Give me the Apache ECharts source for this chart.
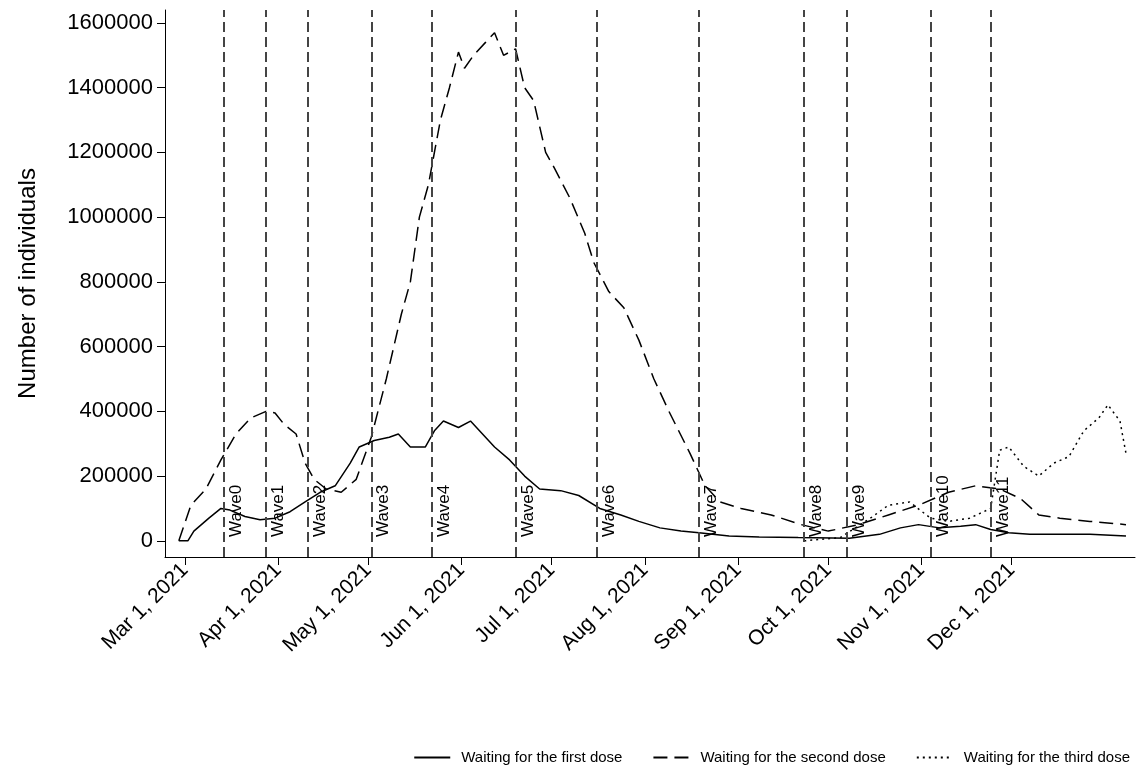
<!DOCTYPE html>
<html><head><meta charset="utf-8">
<script src="https://cdn.jsdelivr.net/npm/echarts@6/dist/echarts.min.js"></script>
<style>html,body{margin:0;padding:0;background:#fff}#c{width:1141px;height:778px}</style>
</head><body><div id="c"></div>
<script>
// days since Mar 1, 2021
const firstDose = [[-2,0],[1,0],[3,30000],[8,70000],[12,100000],[15,95000],[20,75000],[25,65000],[30,70000],[35,90000],[40,120000],[45,150000],[50,170000],[55,240000],[58,290000],[63,310000],[68,320000],[71,330000],[75,290000],[80,290000],[83,340000],[86,370000],[91,350000],[95,370000],[98,340000],[103,290000],[108,250000],[113,200000],[118,160000],[125,155000],[131,140000],[138,100000],[145,80000],[151,60000],[158,40000],[165,30000],[171,25000],[181,15000],[191,12000],[204,10000],[221,8000],[231,20000],[238,40000],[244,50000],[251,40000],[258,45000],[263,50000],[268,35000],[274,25000],[281,20000],[291,20000],[301,20000],[313,15000]];
const secondDose = [[-2,0],[2,110000],[7,160000],[12,250000],[17,330000],[22,380000],[27,400000],[30,395000],[33,360000],[37,330000],[40,240000],[43,190000],[47,160000],[52,150000],[57,190000],[62,320000],[67,500000],[72,700000],[75,800000],[78,1000000],[81,1100000],[85,1300000],[88,1400000],[91,1510000],[93,1460000],[96,1500000],[100,1540000],[103,1570000],[106,1500000],[110,1520000],[113,1400000],[116,1360000],[120,1200000],[123,1150000],[128,1060000],[133,950000],[136,860000],[141,770000],[146,720000],[151,620000],[156,500000],[161,400000],[168,270000],[173,170000],[178,120000],[185,100000],[195,80000],[205,50000],[214,30000],[224,50000],[234,80000],[244,110000],[254,150000],[263,170000],[271,160000],[278,130000],[284,80000],[291,70000],[301,60000],[313,50000]];
const thirdDose = [[206,0],[218,10000],[228,70000],[234,110000],[241,120000],[248,70000],[254,60000],[261,70000],[268,100000],[271,280000],[274,290000],[279,230000],[284,200000],[289,240000],[294,260000],[299,340000],[304,380000],[307,420000],[311,370000],[313,270000]];
const waveDays = [13,27,41,62,82,110,137,171,206,220,248,268];
const waveNames = ['Wave0','Wave1','Wave2','Wave3','Wave4','Wave5','Wave6','Wave7','Wave8','Wave9','Wave10','Wave11'];
const monthDays = [0,31,61,92,122,153,184,214,245,275];
const monthLabels = ['Mar 1, 2021','Apr 1, 2021','May 1, 2021','Jun 1, 2021','Jul 1, 2021','Aug 1, 2021','Sep 1, 2021','Oct 1, 2021','Nov 1, 2021','Dec 1, 2021'];
const yTicks = [0,200000,400000,600000,800000,1000000,1200000,1400000,1600000];

const font = 'Liberation Sans, Arial, sans-serif';
const chart = echarts.init(document.getElementById('c'));
chart.setOption({
  animation:false,
  grid:{left:165,right:6,top:10,bottom:221,containLabel:false,outerBoundsMode:'none'},
  legend:{bottom:8,right:6,itemWidth:36,itemGap:30,itemStyle:{opacity:0},textStyle:{fontFamily:font,fontSize:15,color:'#000',padding:[0,0,0,6]},
    data:['Waiting for the first dose','Waiting for the second dose','Waiting for the third dose']},
  xAxis:{type:'value',min:-6.6,max:316,
    axisLine:{show:true,onZero:false,lineStyle:{color:'#000'}},splitLine:{show:false},
    axisTick:{customValues:monthDays,length:8,lineStyle:{color:'#000'}},
    axisLabel:{customValues:monthDays,rotate:45,fontFamily:font,fontSize:21,color:'#000',margin:10,
      formatter:v=>monthLabels[monthDays.indexOf(v)]}},
  yAxis:{type:'value',min:-50000,max:1640000,
    name:'Number of individuals',nameLocation:'middle',nameGap:125,nameTextStyle:{fontFamily:font,fontSize:24,color:'#000'},
    axisLine:{show:true,onZero:false,lineStyle:{color:'#000'}},splitLine:{show:false},
    axisTick:{customValues:yTicks,length:8,lineStyle:{color:'#000'}},
    axisLabel:{customValues:yTicks,fontFamily:font,fontSize:22,color:'#000',margin:12,formatter:v=>String(v)}},
  series:[
    {name:'Waiting for the first dose',type:'line',data:firstDose,symbol:'none',lineStyle:{color:'#000',width:1.5},itemStyle:{color:'#000'},
      markLine:{symbol:'none',silent:true,lineStyle:{color:'#444',type:[10,5],width:2},
        label:{position:'insideStartBottom',formatter:'{b}',fontFamily:font,fontSize:17,color:'#000',distance:[20,4]},
        data:waveDays.map((d,i)=>({xAxis:d,name:waveNames[i]}))}},
    {name:'Waiting for the second dose',type:'line',data:secondDose,symbol:'none',lineStyle:{color:'#000',width:1.5,type:[14,7]},itemStyle:{color:'#000'}},
    {name:'Waiting for the third dose',type:'line',data:thirdDose,symbol:'none',lineStyle:{color:'#000',width:1.5,type:[2,4]},itemStyle:{color:'#000'}}
  ]
});
</script></body></html>
